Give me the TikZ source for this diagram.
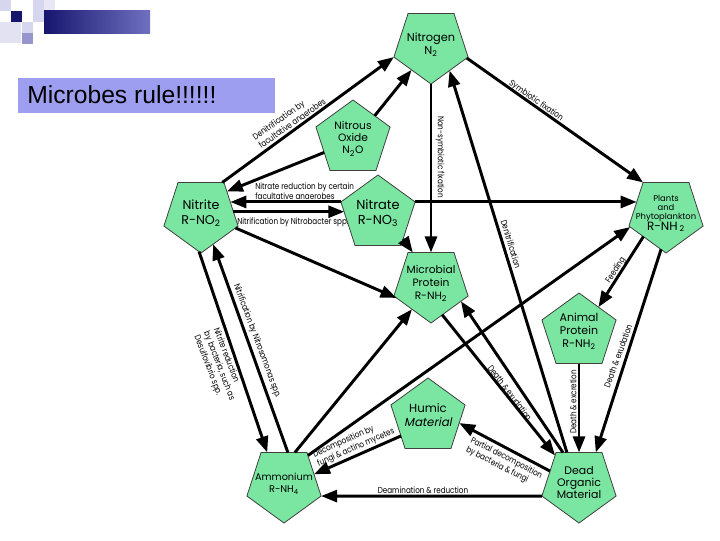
\documentclass[tikz,border=0pt]{standalone}
\usepackage{fontspec}
\setmainfont{Liberation Sans}
\newfontfamily\pentfont{Poppins}
\newfontfamily\pentslant[FakeSlant=0.2]{Poppins}
\newfontfamily\flowfont[FakeStretch=0.83]{Poppins}
\usetikzlibrary{shapes.geometric,arrows.meta}

\definecolor{pentgreen}{RGB}{122,230,162}
\definecolor{titleblue}{RGB}{158,158,240}
\definecolor{decolight}{RGB}{214,214,238}
\definecolor{decomid}{RGB}{150,150,205}
\definecolor{deconavy}{RGB}{22,22,110}
\definecolor{barend}{RGB}{112,112,192}

\newcommand{\pentxt}[1]{\makebox[0pt]{\begin{tabular}{@{}c@{}}#1\end{tabular}}}

\begin{document}
\begin{tikzpicture}[x=0.75pt,y=-0.75pt,
    pent/.style={regular polygon,regular polygon sides=5,minimum size=58.5pt,
      inner sep=0pt,outer sep=0pt,fill=pentgreen,draw=black!75,line width=0.6pt},
    pentdown/.style={pent,regular polygon rotate=180},
    flow/.style={-{Triangle[length=12pt,width=9pt]},line width=2.2pt},
    flowlabel/.style={font=\flowfont\fontsize{6.5}{7.8}\selectfont,inner sep=0pt,align=left}]
    \useasboundingbox (0,0) rectangle (720,540);

    \fill[decolight] (0,0) rectangle (11,11);
    \fill[deconavy] (11,11) rectangle (22,22);
    \fill[decolight!70!white] (0,22) rectangle (21,43);
    \fill[decolight] (22,22) rectangle (33,33);
    \fill[decomid] (22,33) rectangle (33,44);
    \fill[decolight] (33,0) rectangle (44,11);
    \fill[decolight!60!white] (44,0) rectangle (55,10);
    \fill[decolight] (33,11) rectangle (44,22);
    \shade[left color=deconavy,right color=barend] (44,10) rectangle (150,33);

    \fill[titleblue] (18,78) rectangle (275,113);
    \node (title) [anchor=base west,inner sep=0pt,font=\fontsize{18.5}{20}\selectfont] at (27,103) {Microbes rule!!!!!!};

    \node (nitrogen) [pentdown,font=\pentfont\fontsize{8.5}{10}\selectfont] at (431,45) {\pentxt{Nitrogen\\N\textsubscript{2}}};
    \node (nitrous) [pent,font=\pentfont\fontsize{8}{9.3}\selectfont] at (353,139) {\pentxt{Nitrous\\Oxide\\N\textsubscript{2}O}};
    \node (nitrate) [pent,font=\pentfont\fontsize{9.75}{11.3}\selectfont] at (378,214) {\pentxt{Nitrate\\R-NO\textsubscript{3}}};
    \node (nitrite) [pentdown,font=\pentfont\fontsize{9.5}{11.3}\selectfont] at (201,214) {\pentxt{Nitrite\\R-NO\textsubscript{2}}};
    \node (plants) [pentdown,font=\pentfont\fontsize{6.3}{6.6}\selectfont] at (666,214) {\pentxt{Plants\\and\\Phytoplankton\\{\fontsize{9}{10}\selectfont R-NH\,\textsubscript{2}}}};
    \node (microbial) [pentdown,font=\pentfont\fontsize{8}{9.7}\selectfont] at (431,284) {\pentxt{Microbial\\Protein\\R-NH\textsubscript{2}}};
    \node (animal) [pent,font=\pentfont\fontsize{8.3}{9.7}\selectfont] at (579,332) {\pentxt{Animal\\Protein\\R-NH\textsubscript{2}}};
    \node (humic) [pent,font=\pentfont\fontsize{8.8}{10.5}\selectfont] at (428,417) {\pentxt{Humic\\{\pentslant Material}}};
    \node (ammonium) [pentdown,font=\pentfont\fontsize{7.3}{9.5}\selectfont] at (284,484) {\pentxt{Ammonium\\R-NH\textsubscript{4}}};
    \node (dead) [pentdown,font=\pentfont\fontsize{8.2}{9}\selectfont] at (579,484) {\pentxt{Dead\\Organic\\Material}};

    \path[flow] (nitrite.56) edge (nitrogen.198);
    \path[flow] (nitrous.47) edge (nitrogen.232);
    \path[flow] (nitrous.205) edge (nitrite.41);
    \path[flow] (nitrate.162) edge (nitrite.22 |- nitrate.162);
    \path[flow] (nitrite.4) edge (nitrate.177 |- nitrite.4);
    \path[flow] (nitrogen) edge (microbial);
    \path[flow] (nitrate.18) edge (plants.158 |- nitrate.18);
    \path[flow] (nitrogen.-20) edge (plants.126);
    \path[flow] (dead.111) edge (nitrogen.-54);
    \path[flow] (ammonium.50) edge (plants.200);
    \path[flow] (ammonium.71) edge (microbial.233);
    \path[flow] (nitrite.-22) edge (microbial.202);
    \path[flow] (nitrate.-45) edge (microbial.120);
    \path[flow] (microbial.-70) edge (dead.130);
    \path[flow] (dead.117) edge (microbial.-30);
    \path[flow] (dead.156) edge (humic.-11);
    \path[flow] (humic.215) edge (ammonium.18);
    \path[flow] (dead.198) edge (ammonium.-18);
    \path[flow] (nitrite.-93) edge (ammonium.118);
    \path[flow] (ammonium.83) edge (nitrite.-68);
    \path[flow] (plants.225) edge (animal.52);
    \path[flow] (plants.262) edge (dead.62);
    \path[flow] (animal) edge (dead);

    \node (denitfac) [flowlabel,rotate=35] at (289,119) {Denitrification by\\facultative anaerobes};
    \node (nitred) [flowlabel,anchor=west] at (255,191) {Nitrate reduction by certain\\facultative anaerobes};
    \node (nitrobac) [flowlabel,anchor=west] at (237,222) {Nitrification by Nitrobacter spp.};
    \node (nonsym) [flowlabel,rotate=-90] at (440,157) {Non-symbiotic fixation};
    \node (sym) [flowlabel,rotate=-35] at (536,101) {Symbiotic fixation};
    \node (denit) [flowlabel,rotate=-73] at (511,244) {Denitrification};
    \node (deathmic) [flowlabel,rotate=-53] at (510,393) {Death \& exudation};
    \node (partial) [flowlabel,rotate=-27] at (504,463) {Partial decomposition\\by bacteria \& fungi};
    \node (decomp) [flowlabel,rotate=24] at (354,443) {Decomposition by\\fungi \& actino mycetes};
    \node (deamin) [flowlabel] at (423,490) {Deamination \& reduction};
    \node (nitrired) [flowlabel,rotate=-69] at (219,366) {Nitrite reduction\\by bacteria, such as\\Desulfovibrio spp.};
    \node (nitros) [flowlabel,rotate=-69.5] at (257,341) {Nitrification by Nitrosomonas spp.};
    \node (feed) [flowlabel,rotate=57] at (616,270) {Feeding};
    \node (deathpl) [flowlabel,rotate=70] at (618,356) {Death \& exudation};
    \node (excr) [flowlabel,rotate=90] at (573,402) {Death \& excretion};
\end{tikzpicture}
\end{document}
